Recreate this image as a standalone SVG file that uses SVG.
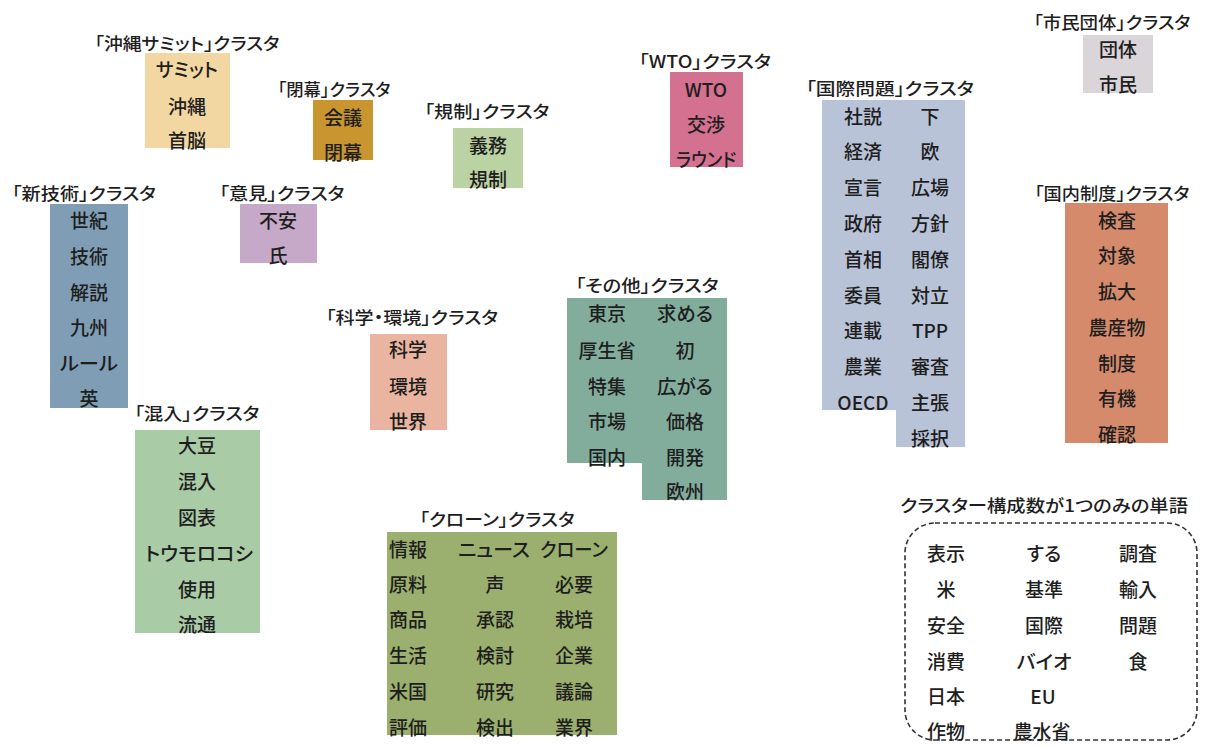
<svg xmlns="http://www.w3.org/2000/svg" width="1209" height="747" viewBox="0 0 1209 747">
<style>
text { font-family: "Noto Sans CJK JP", "Noto Sans", sans-serif; fill: #1e1e1e; text-anchor: middle; dominant-baseline: central; font-weight: 500; font-feature-settings: "palt"; }
.lbl { font-size: 17px; }
.w { font-size: 19px; }
.dash { fill: none; stroke: #333; stroke-width: 1.6; stroke-dasharray: 5 3; }
</style>
<rect width="1209" height="747" fill="#ffffff"/>

<g id="okinawa">
  <text class="lbl" x="187" y="42" textLength="185" lengthAdjust="spacingAndGlyphs">「沖縄サミット」クラスタ</text>
  <rect x="145" y="53" width="85" height="95" fill="#F2D7A2"/>
  <text class="w" x="187" y="68" textLength="62" lengthAdjust="spacingAndGlyphs">サミット</text>
  <text class="w" x="187" y="105">沖縄</text>
  <text class="w" x="187" y="139">首脳</text>
</g>

<g id="heimaku">
  <text class="lbl" x="334" y="88" textLength="113" lengthAdjust="spacingAndGlyphs">「閉幕」クラスタ</text>
  <rect x="313" y="100" width="60" height="60" fill="#C8952F"/>
  <text class="w" x="343" y="116">会議</text>
  <text class="w" x="343" y="151">閉幕</text>
</g>

<g id="kisei">
  <text class="lbl" x="487" y="110" textLength="125" lengthAdjust="spacingAndGlyphs">「規制」クラスタ</text>
  <rect x="453" y="128" width="70" height="60" fill="#BBD3A2"/>
  <text class="w" x="488" y="144">義務</text>
  <text class="w" x="488" y="178">規制</text>
</g>

<g id="wto">
  <text class="lbl" x="705" y="60" textLength="132" lengthAdjust="spacingAndGlyphs">「WTO」クラスタ</text>
  <rect x="670" y="72" width="73" height="95" fill="#D47090"/>
  <text class="w" x="706" y="88">WTO</text>
  <text class="w" x="706" y="123">交渉</text>
  <text class="w" x="706" y="158" textLength="60" lengthAdjust="spacingAndGlyphs">ラウンド</text>
</g>

<g id="shimin">
  <text class="lbl" x="1112" y="21" textLength="157" lengthAdjust="spacingAndGlyphs">「市民団体」クラスタ</text>
  <rect x="1083" y="35" width="70" height="58" fill="#D9D5D9"/>
  <text class="w" x="1118" y="48">団体</text>
  <text class="w" x="1118" y="83">市民</text>
</g>

<g id="shingijutsu">
  <text class="lbl" x="84" y="192" textLength="144" lengthAdjust="spacingAndGlyphs">「新技術」クラスタ</text>
  <rect x="50" y="204" width="78" height="204" fill="#7F9EB6"/>
  <text class="w" x="89" y="219">世紀</text>
  <text class="w" x="89" y="255">技術</text>
  <text class="w" x="89" y="291">解説</text>
  <text class="w" x="89" y="326">九州</text>
  <text class="w" x="89" y="362" textLength="58" lengthAdjust="spacingAndGlyphs">ルール</text>
  <text class="w" x="89" y="397">英</text>
</g>

<g id="iken">
  <text class="lbl" x="282" y="192" textLength="125" lengthAdjust="spacingAndGlyphs">「意見」クラスタ</text>
  <rect x="240" y="204" width="77" height="59" fill="#C6A9C9"/>
  <text class="w" x="278" y="219">不安</text>
  <text class="w" x="278" y="254">氏</text>
</g>

<g id="kokusai">
  <text class="lbl" x="890" y="87" textLength="168" lengthAdjust="spacingAndGlyphs">「国際問題」クラスタ</text>
  <path d="M822,100 H965 V447 H896 V410 H822 Z" fill="#B9C3D8"/>
  <text class="w" x="863" y="115">社説</text>
  <text class="w" x="930" y="115">下</text>
  <text class="w" x="863" y="150">経済</text>
  <text class="w" x="930" y="150">欧</text>
  <text class="w" x="863" y="186">宣言</text>
  <text class="w" x="930" y="186">広場</text>
  <text class="w" x="863" y="222">政府</text>
  <text class="w" x="930" y="222">方針</text>
  <text class="w" x="863" y="258">首相</text>
  <text class="w" x="930" y="258">閣僚</text>
  <text class="w" x="863" y="294">委員</text>
  <text class="w" x="930" y="294">対立</text>
  <text class="w" x="863" y="329">連載</text>
  <text class="w" x="930" y="329">TPP</text>
  <text class="w" x="863" y="365">農業</text>
  <text class="w" x="930" y="365">審査</text>
  <text class="w" x="863" y="401">OECD</text>
  <text class="w" x="930" y="401">主張</text>
  <text class="w" x="930" y="437">採択</text>
</g>

<g id="kokunai">
  <text class="lbl" x="1112" y="192" textLength="155" lengthAdjust="spacingAndGlyphs">「国内制度」クラスタ</text>
  <rect x="1065" y="203" width="103" height="240" fill="#D48A6B"/>
  <text class="w" x="1117" y="219">検査</text>
  <text class="w" x="1117" y="254">対象</text>
  <text class="w" x="1117" y="290">拡大</text>
  <text class="w" x="1117" y="326">農産物</text>
  <text class="w" x="1117" y="362">制度</text>
  <text class="w" x="1117" y="397">有機</text>
  <text class="w" x="1117" y="433">確認</text>
</g>

<g id="kagaku">
  <text class="lbl" x="412" y="316" textLength="172" lengthAdjust="spacingAndGlyphs">「科学・環境」クラスタ</text>
  <rect x="370" y="334" width="77" height="96" fill="#E9B5A0"/>
  <text class="w" x="408" y="348">科学</text>
  <text class="w" x="408" y="385">環境</text>
  <text class="w" x="408" y="420">世界</text>
</g>

<g id="sonota">
  <text class="lbl" x="647" y="284" textLength="143" lengthAdjust="spacingAndGlyphs">「その他」クラスタ</text>
  <path d="M567,298 H727 V500 H642 V463 H567 Z" fill="#82AD9D"/>
  <text class="w" x="607" y="312">東京</text>
  <text class="w" x="685" y="312" textLength="56" lengthAdjust="spacingAndGlyphs">求める</text>
  <text class="w" x="607" y="349">厚生省</text>
  <text class="w" x="685" y="349">初</text>
  <text class="w" x="607" y="385">特集</text>
  <text class="w" x="685" y="385" textLength="56" lengthAdjust="spacingAndGlyphs">広がる</text>
  <text class="w" x="607" y="420">市場</text>
  <text class="w" x="685" y="420">価格</text>
  <text class="w" x="607" y="456">国内</text>
  <text class="w" x="685" y="456">開発</text>
  <text class="w" x="685" y="490">欧州</text>
</g>

<g id="konnyu">
  <text class="lbl" x="197" y="412" textLength="125" lengthAdjust="spacingAndGlyphs">「混入」クラスタ</text>
  <rect x="135" y="430" width="125" height="203" fill="#A9CBA6"/>
  <text class="w" x="197" y="444">大豆</text>
  <text class="w" x="197" y="480">混入</text>
  <text class="w" x="197" y="516">図表</text>
  <text class="w" x="199" y="552" textLength="108" lengthAdjust="spacingAndGlyphs">トウモロコシ</text>
  <text class="w" x="197" y="588">使用</text>
  <text class="w" x="197" y="623">流通</text>
</g>

<g id="clone">
  <text class="lbl" x="497" y="518" textLength="155" lengthAdjust="spacingAndGlyphs">「クローン」クラスタ</text>
  <rect x="387" y="532" width="230" height="203" fill="#9BAF6E"/>
  <text class="w" x="408" y="548">情報</text>
  <text class="w" x="494" y="548" textLength="72" lengthAdjust="spacingAndGlyphs">ニュース</text>
  <text class="w" x="574" y="548" textLength="68" lengthAdjust="spacingAndGlyphs">クローン</text>
  <text class="w" x="408" y="583">原料</text>
  <text class="w" x="495" y="583">声</text>
  <text class="w" x="574" y="583">必要</text>
  <text class="w" x="408" y="618">商品</text>
  <text class="w" x="495" y="618">承認</text>
  <text class="w" x="574" y="618">栽培</text>
  <text class="w" x="408" y="654">生活</text>
  <text class="w" x="495" y="654">検討</text>
  <text class="w" x="574" y="654">企業</text>
  <text class="w" x="408" y="690">米国</text>
  <text class="w" x="495" y="690">研究</text>
  <text class="w" x="574" y="690">議論</text>
  <text class="w" x="408" y="726">評価</text>
  <text class="w" x="495" y="726">検出</text>
  <text class="w" x="574" y="726">業界</text>
</g>

<g id="single">
  <text class="lbl" x="1044" y="504" textLength="288" lengthAdjust="spacingAndGlyphs">クラスター構成数が1つのみの単語</text>
  <rect class="dash" x="905" y="523" width="292" height="217" rx="30" ry="30"/>
  <text class="w" x="946" y="552">表示</text>
  <text class="w" x="1044" y="552">する</text>
  <text class="w" x="1138" y="552">調査</text>
  <text class="w" x="946" y="588">米</text>
  <text class="w" x="1044" y="588">基準</text>
  <text class="w" x="1138" y="588">輸入</text>
  <text class="w" x="946" y="624">安全</text>
  <text class="w" x="1044" y="624">国際</text>
  <text class="w" x="1138" y="624">問題</text>
  <text class="w" x="946" y="660">消費</text>
  <text class="w" x="1044" y="660" textLength="55" lengthAdjust="spacingAndGlyphs">バイオ</text>
  <text class="w" x="1138" y="660">食</text>
  <text class="w" x="946" y="695">日本</text>
  <text class="w" x="1043" y="695">EU</text>
  <text class="w" x="946" y="730">作物</text>
  <text class="w" x="1042" y="730">農水省</text>
</g>
</svg>
